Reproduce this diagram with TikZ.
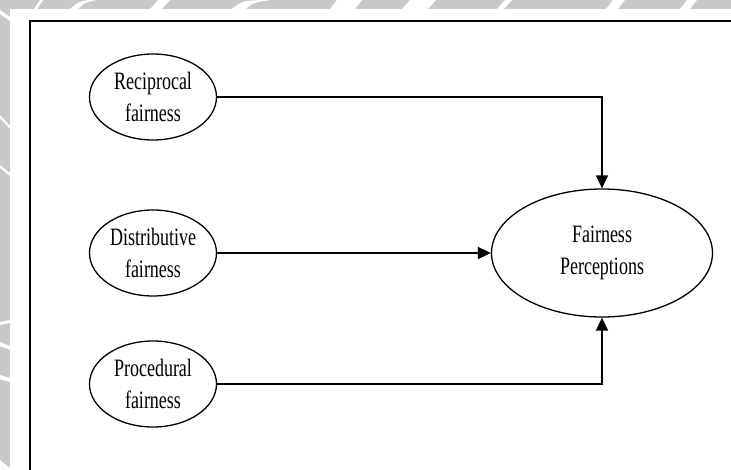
\documentclass[tikz,border=0pt]{standalone}
\usepackage{fontspec}
\newfontfamily\figfont[FakeStretch=0.72]{Liberation Serif}
\usetikzlibrary{shapes.geometric,arrows.meta}
\definecolor{wmgray}{HTML}{C8C8C8}
\tikzset{
  factor/.style={draw, ellipse, line width=1.3pt, inner xsep=-14pt, inner ysep=-8pt,
    minimum width=127pt, minimum height=86pt, align=center,
    font=\figfont\fontsize{25}{32}\selectfont},
  outcome/.style={factor, minimum width=221pt, minimum height=128pt},
  link/.style={line width=1.6pt, -{Triangle[length=13pt,width=12pt]}},
  frame/.style={line width=2pt},
  wmark/.style={fill=white, draw=none}
}
\begin{document}
\begin{tikzpicture}[x=1pt,y=-1pt]
\useasboundingbox (0,0) rectangle (731,469);
\begin{scope}
\clip (0,0) rectangle (731,469);
% watermark strips
\fill[wmgray] (0,0) rectangle (731,9);
\fill[wmgray] (0,0) rectangle (10,469);
\fill[wmark] (34,9) -- (40,0) -- (43,0) -- (37,9) -- cycle;
\fill[wmark] (70,9) .. controls (78,2) .. (88,0) -- (96,0) .. controls (84,3) .. (78,9) -- cycle;
\fill[wmark] (150,9) -- (158,0) -- (170,0) -- (162,9) -- cycle;
\fill[wmark] (232,9) .. controls (242,1) .. (262,0) -- (270,0) .. controls (252,3) .. (246,9) -- cycle;
\fill[wmark] (330,9) -- (337,0) -- (362,0) -- (355,9) -- cycle;
\fill[wmark] (402,9) -- (410,0) -- (436,0) -- (428,9) -- cycle;
\fill[wmark] (497,9) -- (505,0) -- (512,0) -- (504,9) -- cycle;
\fill[wmark] (606,9) -- (613,0) -- (625,0) -- (618,9) -- cycle;
\fill[wmark] (680,9) -- (687,0) -- (697,0) -- (690,9) -- cycle;
\fill[wmark] (0,10) -- (10,17) -- (10,21) -- (0,14) -- cycle;
\fill[wmark] (0,115) -- (10,126) -- (10,129) -- (0,118) -- cycle;
\fill[wmark] (0,165) -- (10,173) -- (10,176) -- (0,168) -- cycle;
\fill[wmark] (0,322) -- (10,320) -- (10,323) -- (0,325) -- cycle;
\fill[wmark] (0,342) -- (10,346) -- (10,350) -- (0,346) -- cycle;
\fill[wmark] (0,375) -- (10,378) -- (10,382) -- (0,379) -- cycle;
\fill[wmark] (0,460) -- (10,468) -- (10,469) -- (0,469) -- cycle;
% outer frame
\draw[frame] (30,21) rectangle (760,500);
\end{scope}

\node[factor] (rec) at (153,97) {Reciprocal\\fairness};
\node[factor] (dis) at (153,253) {Distributive\\fairness};
\node[factor] (pro) at (153,384) {Procedural\\fairness};
\node[outcome] (fp) at (602,253) {Fairness\\Perceptions};

\coordinate (c1) at (fp.north |- rec.east);
\coordinate (c3) at (fp.south |- pro.east);
\draw[link] (rec.east) -- (c1) -- (fp.north);
\draw[link] (dis.east) -- (fp.west);
\draw[link] (pro.east) -- (c3) -- (fp.south);
\end{tikzpicture}
\end{document}
